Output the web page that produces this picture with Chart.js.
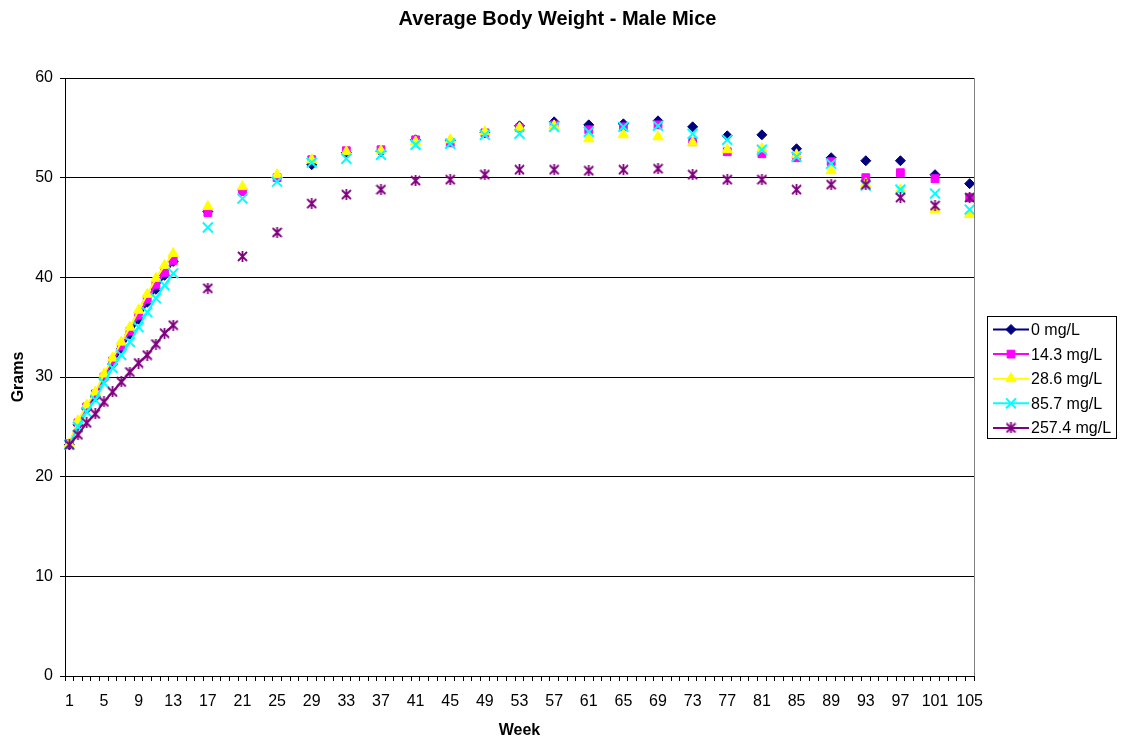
<!DOCTYPE html>
<html><head><meta charset="utf-8">
<script src="https://cdn.jsdelivr.net/npm/chart.js@4.4.0/dist/chart.umd.min.js"></script>
<style>html,body{margin:0;padding:0;background:#fff;overflow:hidden}</style>
</head><body>
<canvas id="c" width="1123" height="738"></canvas>
<script>
const chartTitle = 'Average Body Weight - Male Mice';
const xAxisTitle = 'Week';
const yAxisTitle = 'Grams';
const seriesNames = ['0 mg/L', '14.3 mg/L', '28.6 mg/L', '85.7 mg/L', '257.4 mg/L'];
const seriesColors = ['#000080', '#FF00FF', '#FFFF00', '#00FFFF', '#800080'];

// category axis: weeks 1..105
const categoryWeeks = Array.from({length: 105}, (_, i) => i + 1);
const tickWeeks = [1,5,9,13,17,21,25,29,33,37,41,45,49,53,57,61,65,69,73,77,81,85,89,93,97,101,105];
const yTicks = [0,10,20,30,40,50,60];

// weeks with measurements
const weeks = [1,2,3,4,5,6,7,8,9,10,11,12,13,17,21,25,29,33,37,41,45,49,53,57,61,65,69,73,77,81,85,89,93,97,101,105];

const dose0 = [23.2,25.2,26.8,28.0,29.8,31.3,32.8,34.3,35.8,37.5,38.8,40.2,41.6,
  46.6,48.8,50.0,51.3,52.5,52.6,53.8,53.7,54.5,55.2,55.6,55.3,55.4,55.7,55.1,54.2,54.3,52.9,52.0,51.7,51.7,50.3,49.4];
const dose14 = [23.3,25.4,27.0,28.3,30.0,31.6,33.1,34.6,36.2,37.8,39.3,40.5,41.7,
  46.5,48.6,50.0,51.8,52.7,52.8,53.8,53.5,54.5,55.0,55.3,54.8,55.1,55.3,53.6,52.6,52.4,52.0,51.6,50.0,50.5,49.9,48.0];
const dose28 = [23.3,25.6,27.2,28.5,30.3,31.9,33.5,35.0,36.7,38.3,39.9,41.2,42.4,
  47.1,49.1,50.3,51.8,52.6,52.7,53.6,53.8,54.6,55.0,55.2,53.9,54.3,54.1,53.5,52.8,52.9,52.3,50.7,49.4,48.8,46.8,46.3];
const dose85 = [23.2,25.0,26.5,27.7,29.4,30.9,32.2,33.5,35.0,36.5,37.9,39.2,40.4,
  45.0,47.9,49.6,51.5,51.9,52.3,53.3,53.4,54.3,54.4,55.1,54.6,55.1,55.2,54.4,53.8,52.8,52.1,51.4,49.2,48.8,48.4,46.8];
const dose257 = [23.2,24.2,25.4,26.3,27.5,28.5,29.5,30.5,31.4,32.2,33.3,34.4,35.2,
  38.9,42.1,44.5,47.4,48.3,48.8,49.7,49.8,50.3,50.8,50.8,50.7,50.8,50.9,50.3,49.8,49.8,48.8,49.3,49.3,48.0,47.2,48.0];

const seriesValues = [dose0, dose14, dose28, dose85, dose257];

function toCategoryData(values) {
  return categoryWeeks.map(w => {
    const i = weeks.indexOf(w);
    return i < 0 ? null : values[i];
  });
}

const FONT = "'Liberation Sans', Arial, sans-serif";

function makeStar(color, size, lw) {
  const c = document.createElement('canvas');
  c.width = size; c.height = size;
  const g = c.getContext('2d');
  g.strokeStyle = color; g.lineWidth = lw;
  const m = size / 2, d = size / 2 - 1;
  g.beginPath();
  g.moveTo(m - d, m - d); g.lineTo(m + d, m + d);
  g.moveTo(m + d, m - d); g.lineTo(m - d, m + d);
  g.moveTo(m, 0); g.lineTo(m, size);
  g.stroke();
  return c;
}
const starImg = makeStar('#800080', 11, 1.8);

const markerStyles = ['rectRot', 'rect', 'triangle', 'crossRot', starImg];
const markerRadius = [5, 5.5, 6, 7, 5];
const markerBorder = [1, 1, 1, 2, 1];

const datasets = seriesNames.map((name, k) => ({
  label: name,
  data: toCategoryData(seriesValues[k]),
  borderColor: seriesColors[k],
  backgroundColor: seriesColors[k],
  borderWidth: 2,
  pointStyle: markerStyles[k],
  pointRadius: markerRadius[k],
  pointBorderWidth: markerBorder[k],
  pointBackgroundColor: seriesColors[k],
  pointBorderColor: seriesColors[k],
  tension: 0,
  spanGaps: false,
  order: 4 - k
}));

function drawMarker(ctx, k, x, y) {
  const col = seriesColors[k];
  const r = markerRadius[k];
  ctx.save();
  ctx.fillStyle = col; ctx.strokeStyle = col; ctx.lineWidth = markerBorder[k];
  ctx.beginPath();
  if (k === 0) {
    ctx.moveTo(x - r, y); ctx.lineTo(x, y - r); ctx.lineTo(x + r, y); ctx.lineTo(x, y + r); ctx.closePath();
    ctx.fill(); ctx.stroke();
  } else if (k === 1) {
    const s = Math.SQRT1_2 * r;
    ctx.rect(x - s, y - s, 2 * s, 2 * s); ctx.fill(); ctx.stroke();
  } else if (k === 2) {
    for (let j = 0; j < 3; j++) {
      const a = j * 2 * Math.PI / 3;
      const px = x + Math.sin(a) * r, py = y - Math.cos(a) * r;
      if (j === 0) ctx.moveTo(px, py); else ctx.lineTo(px, py);
    }
    ctx.closePath(); ctx.fill(); ctx.stroke();
  } else if (k === 3) {
    const s = Math.SQRT1_2 * r;
    ctx.moveTo(x - s, y - s); ctx.lineTo(x + s, y + s);
    ctx.moveTo(x + s, y - s); ctx.lineTo(x - s, y + s);
    ctx.stroke();
  } else {
    ctx.drawImage(starImg, x - starImg.width / 2, y - starImg.height / 2);
  }
  ctx.restore();
}

const framePlugin = {
  id: 'frame',
  afterDraw(chart) {
    const ctx = chart.ctx;
    const a = chart.chartArea;
    ctx.save();
    // plot border right side (gray)
    ctx.strokeStyle = '#808080'; ctx.lineWidth = 1;
    ctx.beginPath();
    ctx.moveTo(Math.round(a.right) + 0.5, a.top);
    ctx.lineTo(Math.round(a.right) + 0.5, a.bottom);
    ctx.stroke();
    // title
    ctx.fillStyle = '#000';
    ctx.font = "bold 20px " + FONT;
    ctx.textAlign = 'center'; ctx.textBaseline = 'alphabetic';
    ctx.fillText(chartTitle, 557.5, 25);
    // legend
    const lx = 987.5, ly = 316.5, lw = 129, lh = 122;
    ctx.fillStyle = '#fff';
    ctx.fillRect(lx, ly, lw, lh);
    ctx.strokeStyle = '#000'; ctx.lineWidth = 1;
    ctx.strokeRect(lx, ly, lw, lh);
    ctx.font = "16px " + FONT;
    ctx.textAlign = 'left'; ctx.textBaseline = 'middle';
    seriesNames.forEach((name, k) => {
      const y = 329.5 + k * 24.6;
      ctx.strokeStyle = seriesColors[k]; ctx.lineWidth = 2;
      ctx.beginPath(); ctx.moveTo(993, y); ctx.lineTo(1029, y); ctx.stroke();
      drawMarker(ctx, k, 1011, y);
      ctx.fillStyle = '#000';
      ctx.fillText(name, 1031, y + 1);
    });
    ctx.restore();
  }
};

new Chart(document.getElementById('c').getContext('2d'), {
  type: 'line',
  data: { labels: categoryWeeks.map(String), datasets },
  options: {
    responsive: false,
    animation: false,
    devicePixelRatio: 1,
    layout: { padding: { left: 0, top: 78, right: 149, bottom: 0 } },
    plugins: { legend: { display: false }, title: { display: false }, tooltip: { enabled: false } },
    scales: {
      x: {
        type: 'category',
        offset: true,
        grid: { offset: true, drawOnChartArea: false, drawTicks: true, tickLength: 5, color: '#000', lineWidth: 1 },
        border: { color: '#000', width: 1 },
        ticks: {
          autoSkip: false, maxRotation: 0, minRotation: 0, padding: 11, color: '#000',
          font: { family: FONT, size: 16 },
          callback: (v, i) => tickWeeks.includes(categoryWeeks[i]) ? String(categoryWeeks[i]) : ''
        },
        title: { display: true, text: xAxisTitle, color: '#000', font: { family: FONT, size: 16, weight: 'bold', lineHeight: 0.75 }, padding: { top: 0, bottom: 1 } },
        afterFit: s => { s.height = 62; }
      },
      y: {
        min: 0, max: 60,
        afterBuildTicks: s => { s.ticks = yTicks.map(v => ({ value: v })); },
        grid: { color: '#000', lineWidth: 1, tickLength: 5, drawTicks: true },
        border: { color: '#000', width: 1 },
        ticks: { padding: 7, color: '#000', font: { family: FONT, size: 16 } },
        title: { display: true, text: yAxisTitle, color: '#000', font: { family: FONT, size: 16, weight: 'bold', lineHeight: 1.2 }, padding: { top: 9, bottom: 0 } },
        afterFit: s => { s.width = 65; }
      }
    }
  },
  plugins: [framePlugin]
});
</script>
</body></html>
